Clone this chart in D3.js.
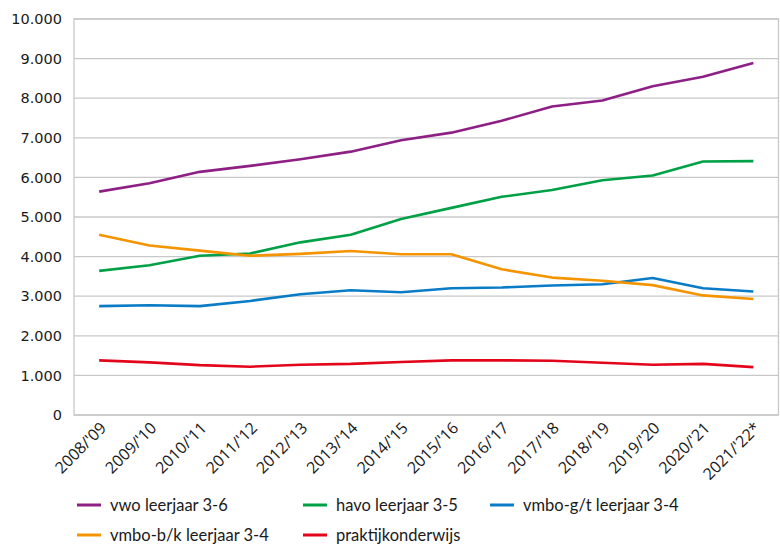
<!DOCTYPE html>
<html>
<head>
<meta charset="utf-8">
<script src="https://cdn.jsdelivr.net/npm/d3@7"></script>
<style>
	body { margin: 0; background: #fff; }
	svg { display: block; }
</style>
</head>
<body>
<div id="chart"></div>
<script>
var years = ["2008/'09", "2009/'10", "2010/'11", "2011/'12", "2012/'13", "2013/'14", "2014/'15",
	"2015/'16", "2016/'17", "2017/'18", "2018/'19", "2019/'20", "2020/'21", "2021/'22*"];

var vwo = [5640, 5850, 6140, 6290, 6460, 6650, 6940, 7130, 7430, 7790, 7940, 8300, 8540, 8890];
var havo = [3640, 3780, 4020, 4080, 4360, 4550, 4950, 5230, 5510, 5680, 5930, 6050, 6400, 6410];
var vmboGt = [2750, 2770, 2750, 2880, 3050, 3150, 3100, 3200, 3220, 3270, 3300, 3460, 3200, 3120];
var vmboBk = [4550, 4280, 4150, 4020, 4070, 4140, 4060, 4060, 3680, 3470, 3390, 3280, 3020, 2930];
var praktijk = [1380, 1330, 1260, 1220, 1270, 1290, 1340, 1380, 1380, 1370, 1320, 1270, 1290, 1210];

var seriesNames = ["vwo leerjaar 3-6", "havo leerjaar 3-5", "vmbo-g/t leerjaar 3-4",
	"vmbo-b/k leerjaar 3-4", "praktijkonderwijs"];
var yTicks = [0, 1000, 2000, 3000, 4000, 5000, 6000, 7000, 8000, 9000, 10000];

var series = [
	{name: seriesNames[0], values: vwo, color: "#8E1F84"},
	{name: seriesNames[1], values: havo, color: "#00A046"},
	{name: seriesNames[2], values: vmboGt, color: "#0A7CC6"},
	{name: seriesNames[3], values: vmboBk, color: "#F39400"},
	{name: seriesNames[4], values: praktijk, color: "#E3061B"}
];

var W = 780, H = 547,
		margin = {top: 19, right: 1.5, bottom: 132, left: 74},
		width = W - margin.left - margin.right,
		height = H - margin.top - margin.bottom;

var svg = d3.select("#chart").append("svg")
		.attr("width", W)
		.attr("height", H);

var g = svg.append("g")
		.attr("transform", "translate(" + margin.left + "," + margin.top + ")");

var x = d3.scaleBand().domain(years).range([0, width]);
var y = d3.scaleLinear().domain([0, 10000]).range([height, 0]);

var fmt = function(d) { return d3.format(",")(d).replace(/,/g, "."); };

// gridlines
g.append("g").attr("class", "grid")
	.selectAll("line")
	.data(yTicks)
	.enter().append("line")
		.attr("x1", 0)
		.attr("x2", width)
		.attr("y1", function(d) { return y(d); })
		.attr("y2", function(d) { return y(d); })
		.attr("stroke", "#c8c8c8")
		.attr("stroke-width", 1.3);

// plot frame
g.append("rect")
		.attr("x", 0)
		.attr("y", 0)
		.attr("width", width)
		.attr("height", height)
		.attr("fill", "none")
		.attr("stroke", "#c8c8c8")
		.attr("stroke-width", 1.3);

// y axis
var yAxis = g.append("g")
		.call(d3.axisLeft(y).tickValues(yTicks).tickFormat(fmt).tickSize(0).tickPadding(12));
yAxis.select(".domain").remove();
yAxis.selectAll("text")
		.attr("fill", "#1a1a1a")
		.style("font-family", "'DejaVu Sans', Verdana, sans-serif")
		.style("font-size", "14.5px");

// x axis
var xAxis = g.append("g")
		.attr("transform", "translate(0," + height + ")")
		.call(d3.axisBottom(x).tickSize(0));
xAxis.select(".domain").remove();
xAxis.selectAll("text")
		.attr("fill", "#1a1a1a")
		.style("font-family", "'Open Sans', 'Liberation Sans', sans-serif")
		.style("font-size", "16px")
		.style("text-anchor", "end")
		.attr("dy", null)
		.attr("y", 0)
		.attr("transform", "translate(8,14) rotate(-45)");

// lines
var line = d3.line()
		.x(function(d, i) { return x(years[i]) + x.bandwidth() / 2; })
		.y(function(d) { return y(d); });

g.selectAll(".series")
	.data(series)
	.enter().append("path")
		.attr("class", "series")
		.attr("d", function(d) { return line(d.values); })
		.attr("fill", "none")
		.attr("stroke", function(d) { return d.color; })
		.attr("stroke-width", 2.6)
		.attr("stroke-linejoin", "round");

// legend
var legendCols = [77, 303, 490],
		legendRows = [505, 535];

var legendItem = svg.append("g").attr("class", "legend")
	.selectAll(".legend-item")
	.data(series)
	.enter().append("g")
		.attr("class", "legend-item")
		.attr("transform", function(d, i) {
			return "translate(" + legendCols[i % 3] + "," + legendRows[Math.floor(i / 3)] + ")";
		});

legendItem.append("line")
		.attr("x1", 0)
		.attr("x2", 24)
		.attr("stroke", function(d) { return d.color; })
		.attr("stroke-width", 3);

legendItem.append("text")
		.attr("x", 33)
		.attr("dy", "0.35em")
		.attr("fill", "#1a1a1a")
		.style("font-family", "Lato, 'Open Sans', sans-serif")
		.style("font-size", "16.5px")
		.text(function(d) { return d.name; });
</script>
</body>
</html>
